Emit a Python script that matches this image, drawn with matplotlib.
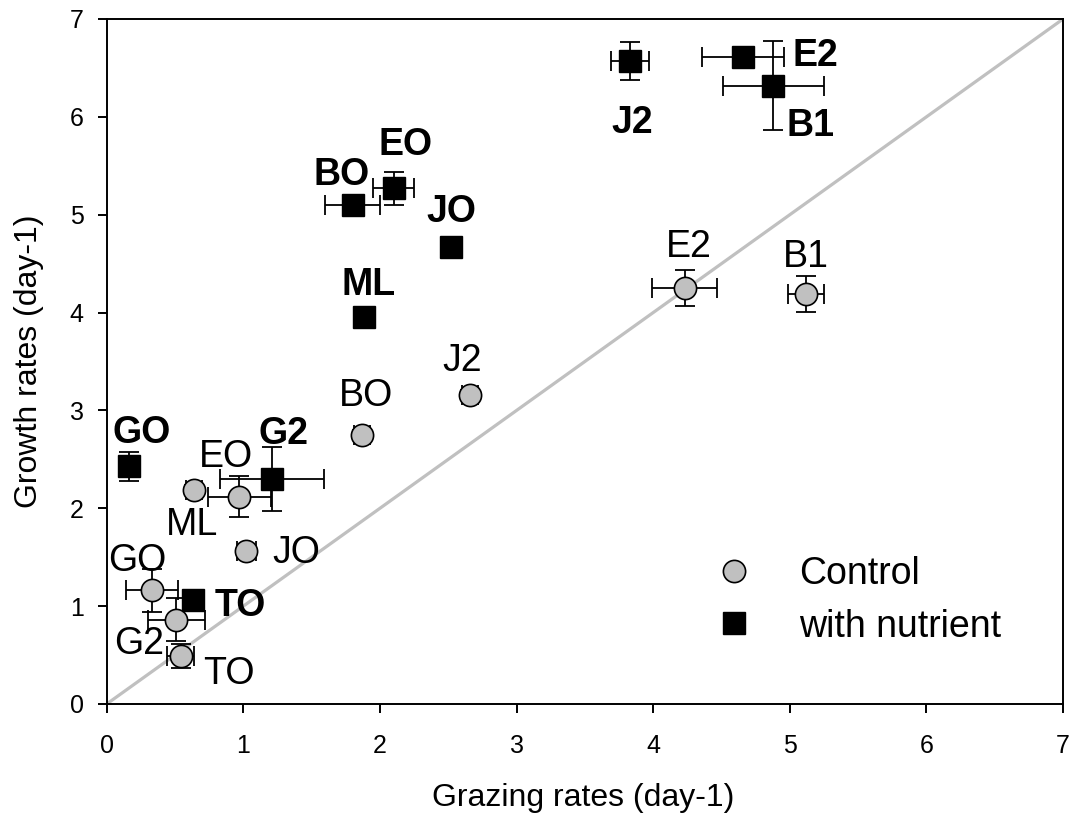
import matplotlib.pyplot as plt

plt.rcParams['font.family'] = ['Liberation Sans', 'DejaVu Sans']

# control points
ctrl_names = ['B1', 'E2', 'J2', 'BO', 'EO', 'ML', 'JO', 'GO', 'G2', 'TO']
ctrl_graze = [5.12, 4.23, 2.66, 1.87, 0.97, 0.64, 1.02, 0.33, 0.51, 0.54]
ctrl_growth = [4.19, 4.25, 3.16, 2.75, 2.12, 2.19, 1.56, 1.16, 0.86, 0.49]
ctrl_xerr = [0.13, 0.24, 0.06, 0.06, 0.23, 0.06, 0.07, 0.19, 0.21, 0.10]
ctrl_yerr = [0.18, 0.18, 0.05, 0.05, 0.21, 0.05, 0.05, 0.22, 0.22, 0.12]

# with nutrient
nut_names = ['GO', 'G2', 'TO', 'ML', 'BO', 'EO', 'JO', 'J2', 'E2', 'B1']
nut_graze = [0.16, 1.21, 0.63, 1.88, 1.80, 2.10, 2.52, 3.83, 4.66, 4.88]
nut_growth = [2.43, 2.30, 1.06, 3.95, 5.10, 5.27, 4.67, 6.57, 6.61, 6.32]
nut_xerr = [0.05, 0.38, 0.05, 0.0, 0.20, 0.15, 0.0, 0.14, 0.30, 0.37]
nut_yerr = [0.15, 0.33, 0.05, 0.0, 0.07, 0.17, 0.0, 0.19, 0.10, 0.45]

# label offsets in pixels (dx, dy of text centre from point)
ctrl_offsets = {'B1': (0, 40), 'E2': (4, 45), 'J2': (-8, 37), 'BO': (4, 42),
                'EO': (-13, 43), 'ML': (-2, -32), 'JO': (50, 2), 'GO': (-15, 33),
                'G2': (-37, -21), 'TO': (48, -14)}
nut_offsets = {'GO': (13, 37), 'G2': (11, 48), 'TO': (48, -2), 'ML': (5, 36),
               'BO': (-11, 33), 'EO': (12, 47), 'JO': (0, 38), 'J2': (2, -58),
               'E2': (72, 5), 'B1': (37, -37)}

fig = plt.figure(figsize=(10.76, 8.25), dpi=100)
ax = fig.add_axes([0.0992, 0.1467, 0.8888, 0.8303])

ax.plot([0, 7], [0, 7], color='#c0c0c0', lw=2.3, zorder=1)

ax.errorbar(ctrl_graze, ctrl_growth, xerr=ctrl_xerr, yerr=ctrl_yerr, fmt='none',
            ecolor='black', elinewidth=1.3, capsize=7, capthick=1.3, zorder=2)
ax.plot(ctrl_graze, ctrl_growth, 'o', ms=16, mfc='#c0c0c0', mec='black', mew=1.2,
        zorder=3, label='Control')

ax.errorbar(nut_graze, nut_growth, xerr=nut_xerr, yerr=nut_yerr, fmt='none',
            ecolor='black', elinewidth=1.3, capsize=7, capthick=1.3, zorder=4)
ax.plot(nut_graze, nut_growth, 's', ms=16, mfc='black', mec='black',
        zorder=5, label='with nutrient')

lab_size = 27
cap = 13.5  # half cap height in px
for n, x, y in zip(ctrl_names, ctrl_graze, ctrl_growth):
    dx, dy = ctrl_offsets[n]
    ax.annotate(n, (x, y), xytext=(dx, dy - cap), textcoords='offset pixels',
                ha='center', va='baseline', fontsize=lab_size)
for n, x, y in zip(nut_names, nut_graze, nut_growth):
    dx, dy = nut_offsets[n]
    ax.annotate(n, (x, y), xytext=(dx, dy - cap), textcoords='offset pixels',
                ha='center', va='baseline', fontsize=lab_size, fontweight='bold')

ax.set_xlim(0, 7)
ax.set_ylim(0, 7)
ax.set_xticks(range(8))
ax.set_yticks(range(8))
for s in ax.spines.values():
    s.set_linewidth(1.4)
ax.tick_params(axis='both', direction='out', length=6.5, width=1.4, labelsize=18)
ax.tick_params(axis='x', pad=15)
ax.tick_params(axis='y', pad=10)

ax.set_xlabel('Grazing rates (day-1)', fontsize=23)
ax.set_ylabel('Growth rates (day-1)', fontsize=23)
ax.xaxis.set_label_coords(0.498, -0.115)
ax.yaxis.set_label_coords(-0.066, 0.5)

ax.legend(loc='upper left', bbox_to_anchor=(0.665, 0.326), bbox_transform=fig.transFigure,
          frameon=False, fontsize=27, handlelength=1, handletextpad=1.24,
          labelspacing=0.44, borderpad=0, borderaxespad=0)

fig.savefig('out.png', dpi=100)
